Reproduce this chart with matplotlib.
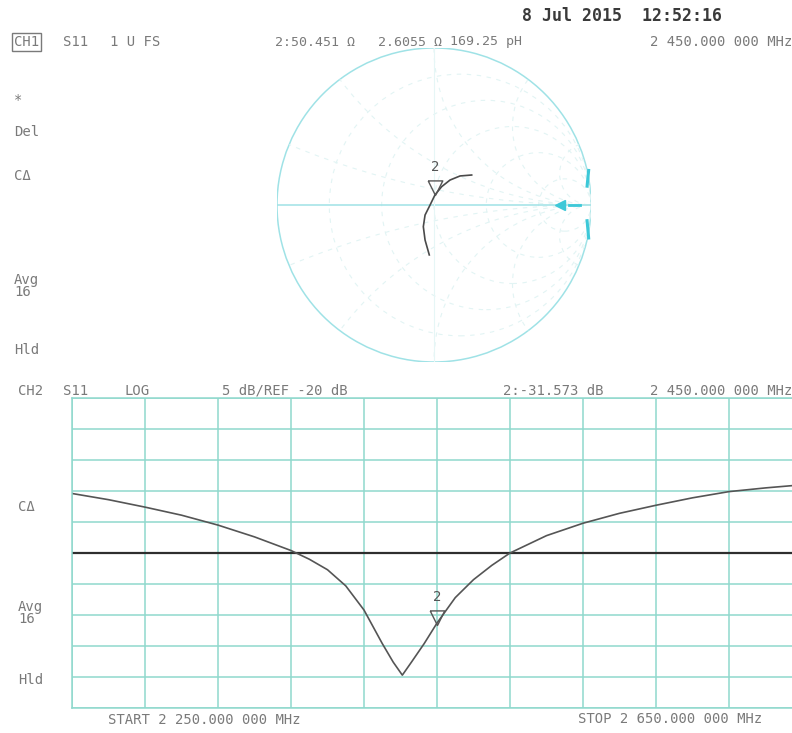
import matplotlib.pyplot as plt
import numpy as np
from matplotlib.path import Path
from matplotlib.patches import Circle

W, H = 792, 733

# CH2 : S11 log magnitude
freq_mhz = [2250, 2270, 2290, 2310, 2330, 2350, 2370, 2380, 2390, 2400, 2410,
            2420, 2426, 2431, 2436, 2443, 2450, 2460, 2470, 2480, 2490, 2510,
            2530, 2550, 2570, 2590, 2610, 2630, 2650]
s11_db = [-10.4, -11.4, -12.6, -13.9, -15.5, -17.4, -19.6, -21.0, -22.7, -25.3,
          -29.2, -34.6, -37.6, -39.7, -37.6, -34.6, -31.3, -27.2, -24.3, -22.0,
          -20.0, -17.2, -15.2, -13.6, -12.3, -11.1, -10.1, -9.5, -9.0]
ref_db = -20
marker_freq = 2450
marker_db = -31.573

# CH1 : Smith chart trace (reflection coefficient, re / im)
gamma_re = [-0.030, -0.057, -0.068, -0.057, -0.025, 0.006, 0.049, 0.102, 0.166, 0.240]
gamma_im = [-0.318, -0.223, -0.138, -0.064, 0.0, 0.064, 0.117, 0.159, 0.185, 0.191]
marker_gamma = (0.006, 0.064)

# grille de l'abaque
r_circles = [0.2, 0.5, 1.0, 2.0, 5.0]
x_arcs = [0.2, 0.5, 1.0, 2.0, 5.0]

grid_col = '#8fd8cd'
smith_col = '#9fe2e6'
smith_grid = '#e2f4f4'
txt_col = '#7a7a7a'
mono = 'DejaVu Sans Mono'

fig = plt.figure(figsize=(W / 100, H / 100), dpi=100)


def ftext(x, y, s, size=10, color=txt_col, **kw):
    fig.text(x / W, 1 - y / H, s, fontsize=size, color=color, family=mono,
             va='center', ha=kw.pop('ha', 'left'), **kw)


# marqueur triangle dont la pointe est sur le point
tri = Path([(-0.5, 1.0), (0.5, 1.0), (0.0, 0.0), (-0.5, 1.0)])

# ---- Abaque de Smith (CH1)
cx, cy, R = 434, 205, 157
axs = fig.add_axes([(cx - R) / W, 1 - (cy + R) / H, 2 * R / W, 2 * R / H])
axs.set_xlim(-1, 1)
axs.set_ylim(-1, 1)
axs.axis('off')
axs.add_patch(Circle((0, 0), 1, fill=False, ec=smith_col, lw=1.1))
clip = Circle((0, 0), 1, transform=axs.transData)
for r in r_circles:
    c = Circle((r / (1 + r), 0), 1 / (1 + r), fill=False, ec=smith_grid,
               lw=0.8, ls=(0, (4, 5)))
    axs.add_patch(c)
    c.set_clip_path(clip)
for xv in x_arcs:
    for s in (1, -1):
        c = Circle((1, s / xv), 1 / xv, fill=False, ec=smith_grid, lw=0.8,
                   ls=(0, (4, 5)))
        axs.add_patch(c)
        c.set_clip_path(clip)
axs.plot([-1, 1], [0, 0], color=smith_col, lw=1.1)
axs.plot([0, 0], [-1, 1], color='#e6f6f6', lw=0.8)
# petits reperes cyan a droite
axs.plot([0.80], [0.0], marker='<', color='#3cc8d8', ms=7)
axs.plot([0.86, 0.93], [0.0, 0.0], color='#3cc8d8', lw=2)
axs.plot([0.975, 0.985], [0.12, 0.22], color='#3cc8d8', lw=2.2)
axs.plot([0.975, 0.985], [-0.10, -0.21], color='#3cc8d8', lw=2.2)

axs.plot(gamma_re, gamma_im, color='#4a4a4a', lw=1.2)
axs.plot(*marker_gamma, marker=tri, ms=21, mfc='none', mec='#555555', mew=1.0)
axs.annotate('2', marker_gamma, xytext=(0, 15), textcoords='offset points',
             ha='center', va='bottom', fontsize=10, color='#555555', family=mono)

# ---- Trace log (CH2)
ax = fig.add_axes([72 / W, 1 - 708 / H, 730 / W, 310 / H])
ax.set_xlim(2250, 2650)
ax.set_ylim(-45, 5)
ax.set_xticks(np.arange(2250, 2651, 40))
ax.set_yticks(np.arange(-45, 6, 5))
ax.tick_params(length=0, labelbottom=False, labelleft=False)
ax.grid(True, color=grid_col, lw=1.1)
for sp in ax.spines.values():
    sp.set_color(grid_col)
    sp.set_linewidth(1.1)
ax.axhline(ref_db, color='#2e2e2e', lw=1.6)
ax.plot(freq_mhz, s11_db, color='#555555', lw=1.2)
ax.plot(marker_freq, marker_db, marker=tri, ms=21, mfc='none', mec='#555555', mew=1.0)
ax.annotate('2', (marker_freq, marker_db), xytext=(0, 15), textcoords='offset points',
            ha='center', va='bottom', fontsize=10, color='#555555', family=mono)

# ---- Textes
ftext(522, 16, '8 Jul 2015  12:52:16', size=12, color='#3a3a3a', weight='bold')
fig.text(14 / W, 1 - 42 / H, 'CH1', fontsize=10, color=txt_col, family=mono,
         va='center', bbox=dict(boxstyle='square,pad=0.12', fc='none', ec=txt_col, lw=1))
ftext(63, 42, 'S11')
ftext(110, 42, '1 U FS')
ftext(275, 42, '2:50.451 Ω', size=9.5)
ftext(378, 42, '2.6055 Ω', size=9.5)
ftext(450, 42, '169.25 pH', size=9.5)
ftext(792, 42, '2 450.000 000 MHz', ha='right')

ftext(14, 100, '*')
ftext(14, 132, 'Del')
ftext(14, 176, 'CΔ')
ftext(14, 286, 'Avg\n16', linespacing=0.9)
ftext(14, 350, 'Hld')

ftext(18, 391, 'CH2')
ftext(63, 391, 'S11')
ftext(125, 391, 'LOG')
ftext(222, 391, '5 dB/REF -20 dB')
ftext(503, 391, '2:-31.573 dB')
ftext(792, 391, '2 450.000 000 MHz', ha='right')

ftext(18, 507, 'CΔ')
ftext(18, 613, 'Avg\n16', linespacing=0.9)
ftext(18, 680, 'Hld')
ftext(108, 720, 'START 2 250.000 000 MHz')
ftext(578, 719, 'STOP 2 650.000 000 MHz')

fig.savefig('out.png', dpi=100)
